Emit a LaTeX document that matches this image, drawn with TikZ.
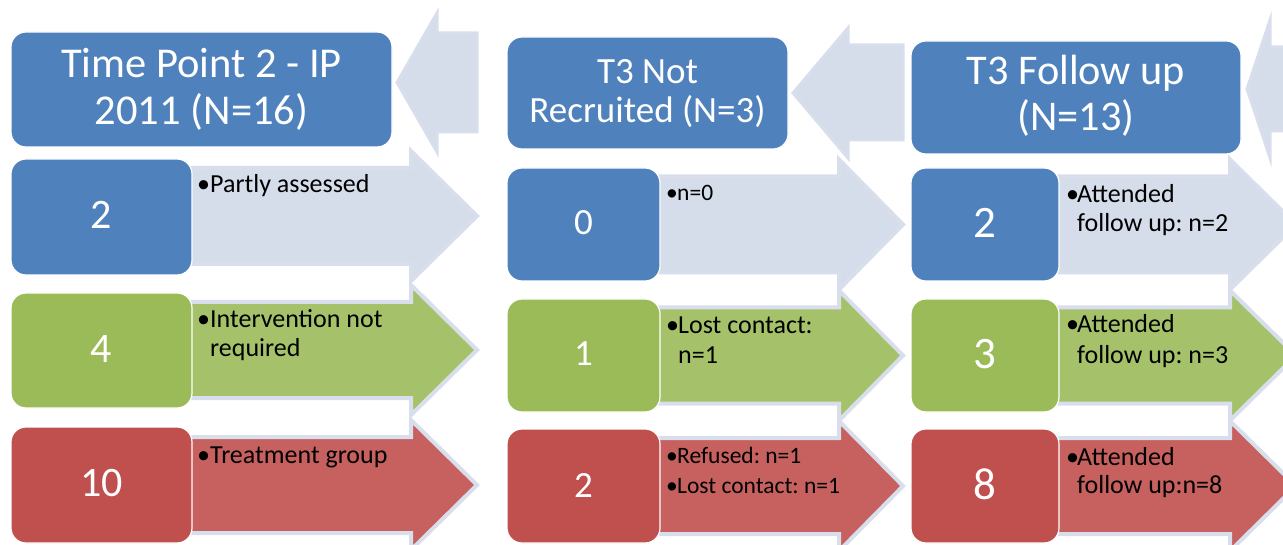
\documentclass[tikz,border=0pt]{standalone}
\usepackage{fontspec}
\setmainfont{Carlito}
\frenchspacing
\definecolor{cblue}{HTML}{4F81BD}
\definecolor{cgreen}{HTML}{9BBB59}
\definecolor{cred}{HTML}{C0504D}
\definecolor{alight}{HTML}{D5DCEA}
\definecolor{agreen}{HTML}{A5C26A}
\definecolor{ared}{HTML}{C6615F}
\definecolor{aborder}{HTML}{D8DEEB}
\newcommand\rowarrow[5]{%
  \draw[arr, fill=#5] (#1,#4-48) -- (#2,#4-48) -- (#2,#4-65) -- (#3,#4) -- (#2,#4+65) -- (#2,#4+48) -- (#1,#4+48) -- cycle;}
\begin{document}
\begin{tikzpicture}[x=1pt, y=-1pt,
  box/.style={draw=white, line width=1.2pt, rounded corners=15pt, inner sep=0pt},
  arr/.style={draw=aborder, line width=4pt, line join=miter},
  harr/.style={draw=aborder, line width=3pt, line join=miter, fill=alight},
  hd/.style={anchor=base, inner sep=0pt, text=white},
  num/.style={anchor=base, inner sep=0pt, text=white},
  tx/.style={anchor=base west, inner sep=0pt, text=black}]
\useasboundingbox (0,0) rectangle (1283,545);
\clip (0,0) rectangle (1283,545);
% header arrows (pointing left)
\draw[harr] (477,33) -- (437,33) -- (437,13) -- (397,82.5) -- (437,152) -- (437,132) -- (477,132) -- cycle;
\draw[harr] (903,45) -- (848,45) -- (848,28) -- (793,93) -- (848,158) -- (848,140) -- (903,140) -- cycle;
\draw[harr] (1300,47) -- (1270,47) -- (1270,20) -- (1247,89) -- (1270,158) -- (1270,131) -- (1300,131) -- cycle;
% row arrows
\rowarrow{150}{411}{477}{485}{ared}
\rowarrow{150}{411}{477}{350}{agreen}
\rowarrow{150}{411}{477}{216}{alight}
\rowarrow{620}{839}{903}{486}{ared}
\rowarrow{620}{839}{903}{355.5}{agreen}
\rowarrow{620}{839}{903}{224.5}{alight}
\rowarrow{1020}{1230}{1296}{486}{ared}
\rowarrow{1020}{1230}{1296}{355.5}{agreen}
\rowarrow{1020}{1230}{1296}{224.5}{alight}
% header boxes
\node[box, fill=cblue, minimum width=381pt, minimum height=115pt] (H1) at (201.5,89.5) {};
\node[box, fill=cblue, minimum width=281pt, minimum height=112pt] (H2) at (647.5,93) {};
\node[box, fill=cblue, minimum width=330pt, minimum height=113pt] (H3) at (1076,97.5) {};
% number boxes
\node[box, fill=cblue,  minimum width=181pt, minimum height=116pt] (B11) at (101.5,217) {};
\node[box, fill=cgreen, minimum width=181pt, minimum height=115pt] (B12) at (101.5,350.5) {};
\node[box, fill=cred,   minimum width=181pt, minimum height=116pt] (B13) at (101.5,485) {};
\node[box, fill=cblue,  minimum width=153pt, minimum height=113pt] (B21) at (583.5,224.5) {};
\node[box, fill=cgreen, minimum width=153pt, minimum height=113pt] (B22) at (583.5,355.5) {};
\node[box, fill=cred,   minimum width=153pt, minimum height=114pt] (B23) at (583.5,486) {};
\node[box, fill=cblue,  minimum width=148pt, minimum height=113pt] (B31) at (985,224.5) {};
\node[box, fill=cgreen, minimum width=148pt, minimum height=113pt] (B32) at (985,355.5) {};
\node[box, fill=cred,   minimum width=148pt, minimum height=114pt] (B33) at (985,486) {};
% header texts
\begin{scope}[every node/.append style={font=\fontsize{42.5}{47}\selectfont}]
\node[hd] (H1a) at (201.5,78) {Time Point 2 - IP};
\node[hd] (H1b) at (201.5,125) {2011 (N=16)};
\end{scope}
\begin{scope}[every node/.append style={font=\fontsize{37}{40}\selectfont}]
\node[hd] (H2a) at (647.5,84) {T3 Not};
\node[hd] (H2b) at (647.5,123) {Recruited (N=3)};
\end{scope}
\begin{scope}[every node/.append style={font=\fontsize{42.3}{46}\selectfont}]
\node[hd] (H3a) at (1076,85) {T3 Follow up};
\node[hd] (H3b) at (1076,131) {(N=13)};
\end{scope}
% numbers
\begin{scope}[every node/.append style={font=\fontsize{42}{46}\selectfont}]
\node[num] (N11) at (101.5,229) {2};
\node[num] (N12) at (101.5,362.5) {4};
\node[num] (N13) at (101.5,496.5) {10};
\end{scope}
\begin{scope}[every node/.append style={font=\fontsize{37}{40}\selectfont}]
\node[num] (N21) at (583.5,235) {0};
\node[num] (N22) at (583.5,366) {1};
\node[num] (N23) at (583.5,497) {2};
\end{scope}
\begin{scope}[every node/.append style={font=\fontsize{45}{49}\selectfont}]
\node[num] (N31) at (985,237.5) {2};
\node[num] (N32) at (985,368.5) {3};
\node[num] (N33) at (985,499) {8};
\end{scope}
% arrow texts
\begin{scope}[every node/.append style={font=\fontsize{26}{29}\selectfont}]
\node[tx] (T11) at (197,193) {\makebox[13pt][l]{•}Partly assessed};
\node[tx] (T12a) at (197,328) {\makebox[13pt][l]{•}Intervention not};
\node[tx] (T12b) at (210,357) {required};
\node[tx] (T13) at (197,463) {\makebox[13pt][l]{•}Treatment group};
\node[tx] (T22a) at (666,334) {\makebox[12pt][l]{•}Lost contact:};
\node[tx] (T22b) at (678,363) {n=1};
\node[tx] (T31a) at (1066,203) {\makebox[11pt][l]{•}Attended};
\node[tx] (T31b) at (1077,232) {follow up: n=2};
\node[tx] (T32a) at (1066,333) {\makebox[11pt][l]{•}Attended};
\node[tx] (T32b) at (1077,363) {follow up: n=3};
\node[tx] (T33a) at (1066,465) {\makebox[11pt][l]{•}Attended};
\node[tx] (T33b) at (1077,493) {follow up:n=8};
\end{scope}
\begin{scope}[every node/.append style={font=\fontsize{23.5}{26}\selectfont}]
\node[tx] (T21) at (666,201) {\makebox[11pt][l]{•}n=0};
\node[tx] (T23a) at (666,463) {\makebox[11pt][l]{•}Refused: n=1};
\node[tx] (T23b) at (666,493) {\makebox[11pt][l]{•}Lost contact: n=1};
\end{scope}
\end{tikzpicture}
\end{document}
